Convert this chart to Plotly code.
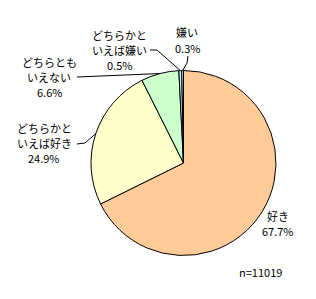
import math
import plotly.graph_objects as go

# Data
categories = ["好き", "どちらかといえば好き", "どちらともいえない", "どちらかといえば嫌い", "嫌い"]
label_lines = [["好き"], ["どちらかと", "いえば好き"], ["どちらとも", "いえない"], ["どちらかと", "いえば嫌い"], ["嫌い"]]
values = [67.7, 24.9, 6.6, 0.5, 0.3]
pct_labels = ["67.7%", "24.9%", "6.6%", "0.5%", "0.3%"]
colors = ["#FFCC99", "#FFFFCC", "#CCFFCC", "#CCECFF", "#CCFFFF"]
n_text = "n=11019"

W, H = 316, 299
CX, CY, R = 183.5, 163, 92.5  # pie centre / radius in pixels


def px(x):
    return x / W


def py(y):
    return 1 - y / H


fig = go.Figure(go.Pie(
    labels=categories,
    values=values,
    sort=False,
    direction="clockwise",
    rotation=0,
    marker=dict(colors=colors, line=dict(color="black", width=1)),
    textinfo="none",
    hoverinfo="label+percent",
    showlegend=False,
    domain=dict(x=[px(CX - R), px(CX + R)], y=[py(CY + R), py(CY - R)]),
))

FONT = dict(family="Noto Sans CJK JP, sans-serif", size=11, color="black")

# label placement: x centre and y of each line (pixels), leader start points
label_x = [278, 44, 49, 119, 187]
label_y = [[216, 231], [128, 143, 158], [62, 77, 92], [35, 50, 65], [32, 48]]
leader_start = [None, [(77, 144), (85, 143)], [(77, 77)], [(150, 50), (157, 50)], [(188, 56), (187, 63)]]

total = sum(values)
cum = 0
annotations = []
shapes = []
for i, v in enumerate(values):
    mid = (cum + v / 2) / total * 2 * math.pi
    cum += v
    ax = CX + R * math.sin(mid)
    ay = CY - R * math.cos(mid)
    lines = label_lines[i] + [pct_labels[i]]
    for t, yy in zip(lines, label_y[i]):
        annotations.append(dict(
            x=px(label_x[i]), y=py(yy), xref="paper", yref="paper",
            text=t, showarrow=False, font=FONT,
            xanchor="center", yanchor="middle",
        ))
    if leader_start[i]:
        pts = leader_start[i] + [(ax, ay)]
        for (x0, y0), (x1, y1) in zip(pts[:-1], pts[1:]):
            shapes.append(dict(type="line", xref="paper", yref="paper",
                               x0=px(x0), y0=py(y0), x1=px(x1), y1=py(y1),
                               line=dict(color="black", width=1)))

annotations.append(dict(x=px(260), y=py(272), xref="paper", yref="paper",
                        text=n_text, showarrow=False, font=FONT,
                        xanchor="center", yanchor="middle"))

fig.update_layout(
    width=W, height=H,
    margin=dict(l=0, r=0, t=0, b=0),
    paper_bgcolor="white", plot_bgcolor="white",
    annotations=annotations, shapes=shapes,
)

fig.write_html("out.html")
